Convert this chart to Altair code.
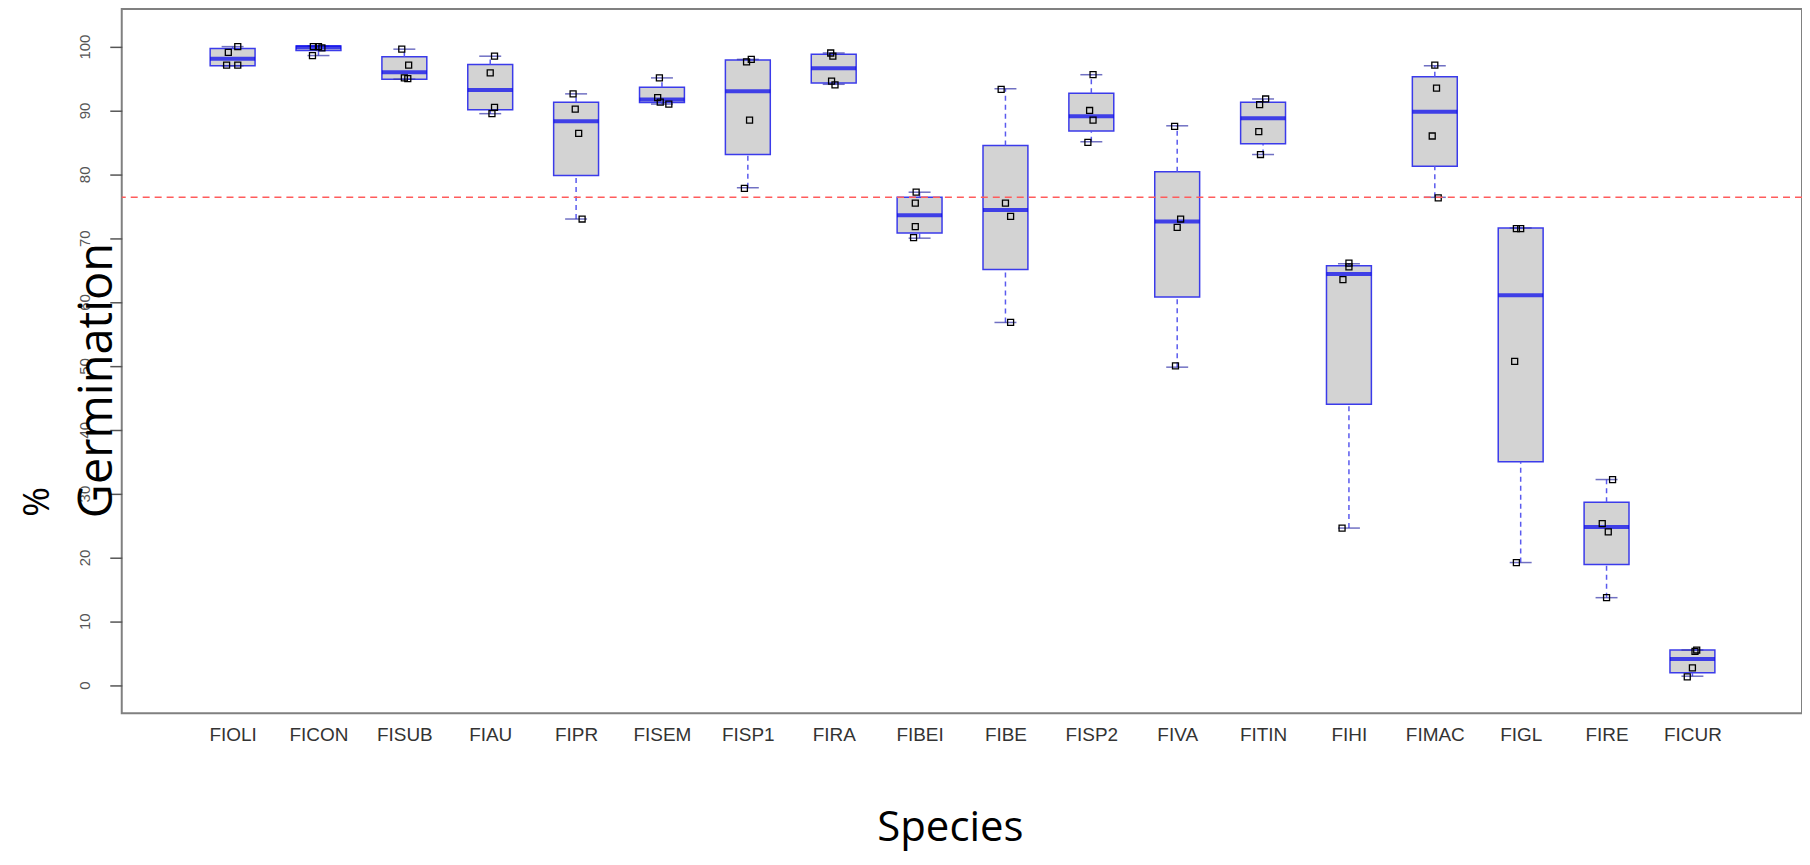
import altair as alt
import pandas as pd

species = ["FIOLI", "FICON", "FISUB", "FIAU", "FIPR", "FISEM", "FISP1", "FIRA", "FIBEI",
           "FIBE", "FISP2", "FIVA", "FITIN", "FIHI", "FIMAC", "FIGL", "FIRE", "FICUR"]

whisker_low = [97.0, 98.6, 94.9, 89.5, 73.0, 91.0, 77.9, 94.1, 70.0,
               56.8, 85.1, 49.8, 83.1, 24.6, 76.4, 19.2, 13.7, 1.4]
q1 = [97.0, 99.4, 94.9, 90.1, 79.8, 91.25, 83.1, 94.3, 70.8,
      65.1, 86.8, 60.8, 84.8, 44.0, 81.25, 35.0, 18.9, 1.94]
median = [98.1, 99.9, 96.0, 93.2, 88.3, 91.7, 93.0, 96.6, 73.6,
          74.4, 89.1, 72.6, 88.8, 64.4, 89.8, 61.05, 24.75, 4.1]
q3 = [99.7, 100.1, 98.4, 97.2, 91.3, 93.65, 97.9, 98.8, 76.4,
      84.5, 92.7, 80.4, 91.3, 65.7, 95.3, 71.6, 28.65, 5.5]
whisker_high = [100.0, 100.1, 99.6, 98.5, 92.6, 95.1, 98.0, 99.0, 77.2,
                93.4, 95.6, 87.6, 91.8, 66.0, 97.0, 71.6, 32.2, 5.5]

points = [
    [100.0, 99.1, 97.1, 97.1],
    [100.0, 100.0, 99.8, 98.6],
    [99.6, 97.1, 95.1, 95.0],
    [98.5, 95.9, 90.5, 89.5],
    [92.6, 90.2, 86.4, 73.0],
    [95.1, 92.0, 91.3, 91.0],
    [98.0, 97.6, 88.5, 77.8],
    [99.0, 98.5, 94.6, 94.0],
    [77.2, 75.5, 71.8, 70.1],
    [93.3, 75.5, 73.4, 56.8],
    [95.6, 90.0, 88.5, 85.0],
    [87.5, 73.0, 71.7, 50.0],
    [91.8, 90.9, 86.7, 83.1],
    [66.1, 65.5, 63.5, 24.6],
    [97.1, 93.5, 86.0, 76.3],
    [71.5, 71.5, 50.7, 19.2],
    [32.2, 25.3, 24.0, 13.7],
    [5.5, 5.3, 2.7, 1.3],
]
jitter = [
    [0.06, -0.05, -0.07, 0.06],
    [-0.06, 0.0, 0.04, -0.07],
    [-0.03, 0.05, 0.0, 0.04],
    [0.05, 0.0, 0.05, 0.02],
    [-0.035, -0.01, 0.03, 0.07],
    [-0.03, -0.05, -0.02, 0.08],
    [0.04, -0.015, 0.02, -0.04],
    [-0.035, -0.01, -0.025, 0.015],
    [-0.04, -0.05, -0.05, -0.07],
    [-0.05, 0.0, 0.06, 0.06],
    [0.02, -0.02, 0.02, -0.04],
    [-0.03, 0.04, 0.0, -0.02],
    [0.03, -0.04, -0.05, -0.03],
    [0.0, 0.0, -0.07, -0.08],
    [0.0, 0.02, -0.03, 0.04],
    [-0.05, 0.0, -0.07, -0.05],
    [0.07, -0.05, 0.02, 0.0],
    [0.05, 0.03, 0.0, -0.06],
]
reference_line = [76.4]

boxes = pd.DataFrame({
    "species": species,
    "idx": list(range(len(species))),
    "lo": whisker_low,
    "q1": q1,
    "med": median,
    "q3": q3,
    "hi": whisker_high,
})
pt_rows = []
for i, (vals, offs) in enumerate(zip(points, jitter)):
    for v, o in zip(vals, offs):
        pt_rows.append({"idx": i + o, "val": v})
pts = pd.DataFrame(pt_rows)

xscale = alt.Scale(domain=[-1.233, 18.218], nice=False, zero=False)
yscale = alt.Scale(domain=[-4.42, 105.9], nice=False, zero=False)
label_expr = "[" + ",".join("'" + s + "'" for s in species) + "][datum.value]"

xaxis = alt.Axis(
    values=list(range(len(species))), labelExpr=label_expr, ticks=False, domain=False, grid=False,
    labelFont="Liberation Sans", labelFontSize=19, labelColor="#333333", labelPadding=12,
    title="Species", titleFont="Open Sans", titleFontSize=42, titleFontWeight="normal",
    titleColor="black", titleX=830, titleY=127, titleAlign="center", titleBaseline="alphabetic",
)
yaxis = alt.Axis(
    values=list(range(0, 101, 10)), grid=False, domain=False, tickSize=12, tickColor="#555555",
    tickWidth=1.5, labelAngle=270, labelAlign="center", labelBaseline="middle", labelPadding=25,
    labelFont="Liberation Sans", labelFontSize=15, labelColor="#555555",
    title="Germination", titleFont="Open Sans", titleFontSize=47, titleFontWeight="normal",
    titleColor="black", titleAngle=270, titleX=-10, titleY=372, titleAlign="center",
    titleBaseline="alphabetic",
)

X = alt.X("idx:Q", scale=xscale, axis=xaxis)

box = alt.Chart(boxes).mark_bar(size=45, orient="vertical", fill="#d3d3d3", stroke="#3b3bea",
                                strokeWidth=1.5).encode(
    x=X, y=alt.Y("q1:Q", scale=yscale, axis=yaxis), y2="q3:Q")

whisk_hi = alt.Chart(boxes).mark_rule(color="#5a5aee", strokeDash=[5, 4], strokeWidth=1.5).encode(
    x=X, y=alt.Y("q3:Q", scale=yscale, axis=yaxis), y2="hi:Q")
whisk_lo = alt.Chart(boxes).mark_rule(color="#5a5aee", strokeDash=[5, 4], strokeWidth=1.5).encode(
    x=X, y=alt.Y("lo:Q", scale=yscale, axis=yaxis), y2="q1:Q")

cap_hi = alt.Chart(boxes).mark_tick(orient="horizontal", size=22, thickness=1.5, color="#3333aa").encode(
    x=X, y=alt.Y("hi:Q", scale=yscale, axis=yaxis))
cap_lo = alt.Chart(boxes).mark_tick(orient="horizontal", size=22, thickness=1.5, color="#3333aa").encode(
    x=X, y=alt.Y("lo:Q", scale=yscale, axis=yaxis))

med = alt.Chart(boxes).mark_tick(orient="horizontal", size=45, thickness=4, color="#0000ee").encode(
    x=X, y=alt.Y("med:Q", scale=yscale, axis=yaxis))

dots = alt.Chart(pts).mark_point(shape="square", filled=False, color="black", size=36,
                                 strokeWidth=1.3, opacity=1).encode(
    x=X, y=alt.Y("val:Q", scale=yscale, axis=yaxis))

ref = alt.Chart(pd.DataFrame({"val": reference_line})).mark_rule(
    color="#ff5c5c", strokeDash=[7, 5], strokeWidth=1.6).encode(
    y=alt.Y("val:Q", scale=yscale, axis=yaxis))

pct = alt.Chart(pd.DataFrame({"t": ["%"]})).mark_text(
    angle=270, font="Open Sans", fontSize=36, align="center", baseline="middle", color="black").encode(
    x=alt.value(-84), y=alt.value(494), text="t:N")

chart = alt.layer(box, whisk_hi, whisk_lo, cap_hi, cap_lo, med, dots, ref, pct).properties(
    width=1684, height=706,
    padding={"left": 114, "top": 0, "right": 0, "bottom": 142},
    autosize=alt.AutoSizeParams(type="none"),
).configure_view(stroke="#808080", strokeWidth=2)

chart.save("out.html", embed_options={"renderer": "svg", "actions": False})
